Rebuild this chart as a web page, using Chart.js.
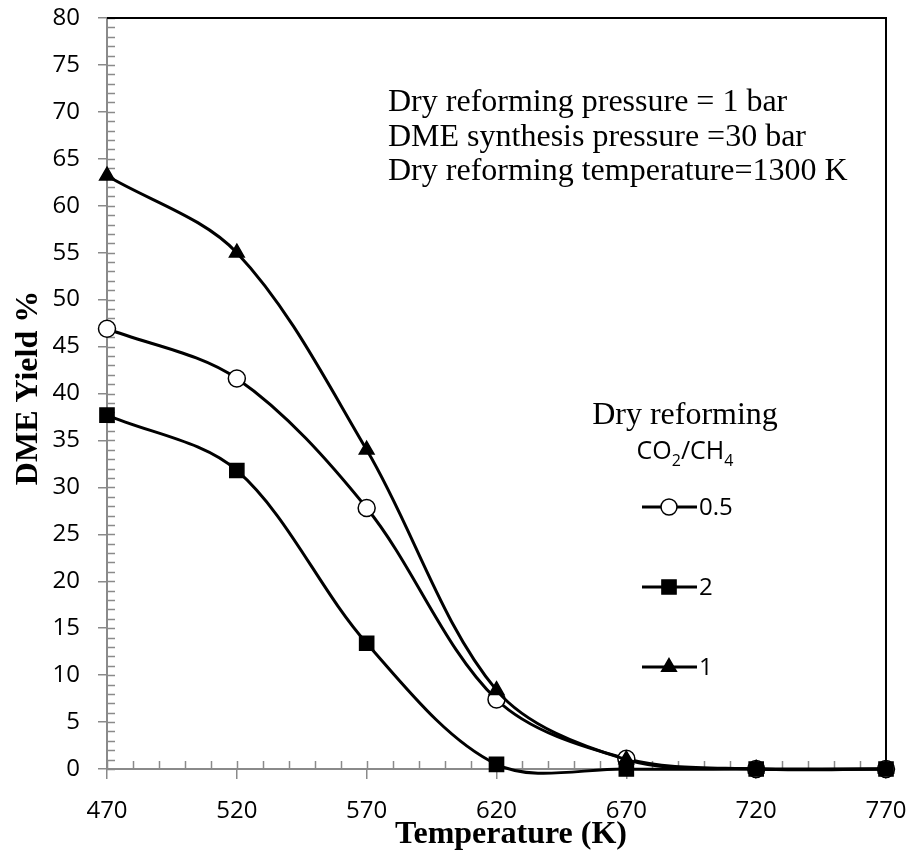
<!DOCTYPE html>
<html>
<head>
<meta charset="utf-8">
<script src="https://cdn.jsdelivr.net/npm/chart.js@4/dist/chart.umd.min.js"></script>
<style>
  html, body { margin: 0; padding: 0; background: #fff; }
  #wrap { width: 916px; height: 855px; }
</style>
</head>
<body>
<div id="wrap"><canvas id="c" width="916" height="855"></canvas></div>
<script>
// Reactor temperature (K) for DME synthesis
const temperatures = [470, 520, 570, 620, 670, 720, 770];

// DME yield (%) for each dry-reforming CO2/CH4 feed ratio
const yieldRatio05 = [46.9, 41.6, 27.8, 7.4, 1.1, 0, 0];
const yieldRatio2  = [37.7, 31.8, 13.4, 0.5, 0, 0, 0];
const yieldRatio1  = [63.2, 55.0, 34.0, 8.4, 1.0, 0, 0];

const seriesLabels = ['0.5', '2', '1'];
const xTickValues = [470, 520, 570, 620, 670, 720, 770];
const yTickValues = [0, 5, 10, 15, 20, 25, 30, 35, 40, 45, 50, 55, 60, 65, 70, 75, 80];

const xAxisTitle = 'Temperature (K)';
const yAxisTitle = 'DME Yield %';
const noteLines = [
  'Dry reforming pressure = 1 bar',
  'DME synthesis pressure =30 bar',
  'Dry reforming temperature=1300 K'
];
const legendTitle = 'Dry reforming';

const SANS = '"Open Sans", "Liberation Sans", sans-serif';
const SERIF = '"Liberation Serif", "Times New Roman", serif';
const AXIS_GREY = '#8a8a8a';

function toPoints(ys) {
  return temperatures.map((t, i) => ({ x: t, y: ys[i] }));
}

const baseSeries = {
  borderColor: '#000',
  borderWidth: 3,
  pointBorderColor: '#000',
  pointBorderWidth: 1.5,
  tension: 0.33,
  fill: false,
  clip: false
};

const datasets = [
  Object.assign({}, baseSeries, {
    label: seriesLabels[0], data: toPoints(yieldRatio05),
    pointStyle: 'circle', pointRadius: 8.5, pointBackgroundColor: '#fff', order: 3
  }),
  Object.assign({}, baseSeries, {
    label: seriesLabels[1], data: toPoints(yieldRatio2),
    pointStyle: 'rect', pointRadius: 10, pointBackgroundColor: '#000', order: 2
  }),
  Object.assign({}, baseSeries, {
    label: seriesLabels[2], data: toPoints(yieldRatio1),
    pointStyle: 'triangle', pointRadius: 8.5, pointBackgroundColor: '#000', order: 1
  })
];

function drawMarker(ctx, ds, x, y) {
  const r = ds.pointRadius;
  ctx.save();
  ctx.fillStyle = ds.pointBackgroundColor;
  ctx.strokeStyle = ds.pointBorderColor;
  ctx.lineWidth = ds.pointBorderWidth;
  ctx.beginPath();
  if (ds.pointStyle === 'circle') {
    ctx.arc(x, y, r - 0.5, 0, Math.PI * 2);
  } else if (ds.pointStyle === 'rect') {
    const s = Math.SQRT1_2 * r;
    ctx.rect(x - s, y - s, 2 * s, 2 * s);
  } else {
    for (let k = 0; k < 3; k++) {
      const a = k * 2 * Math.PI / 3;
      const px = x + Math.sin(a) * r, py = y - Math.cos(a) * r;
      if (k === 0) ctx.moveTo(px, py); else ctx.lineTo(px, py);
    }
    ctx.closePath();
  }
  ctx.fill();
  ctx.stroke();
  ctx.restore();
}

// Inner tick marks (major + minor), the black frame on top/right, titles and notes
const framePlugin = {
  id: 'frame',
  beforeDatasetsDraw(chart) {
    const { ctx, chartArea: a, scales } = chart;
    ctx.save();
    ctx.strokeStyle = AXIS_GREY;
    ctx.lineWidth = 1.5;
    ctx.beginPath();
    for (let v = 0; v <= 80; v += 1) {
      const y = Math.round(scales.y.getPixelForValue(v)) + 0.5;
      ctx.moveTo(a.left, y);
      ctx.lineTo(a.left + 8, y);
    }
    for (let t = 470; t <= 770; t += 10) {
      const x = Math.round(scales.x.getPixelForValue(t)) + 0.5;
      ctx.moveTo(x, a.bottom);
      ctx.lineTo(x, a.bottom - 8);
    }
    ctx.stroke();
    ctx.strokeStyle = '#000';
    ctx.lineWidth = 2;
    ctx.beginPath();
    ctx.moveTo(a.left, a.top);
    ctx.lineTo(a.right, a.top);
    ctx.lineTo(a.right, a.bottom);
    ctx.stroke();
    ctx.restore();
  },
  afterDraw(chart) {
    const { ctx } = chart;
    ctx.save();
    ctx.fillStyle = '#000';

    // Axis titles
    ctx.font = 'bold 32px ' + SERIF;
    ctx.textAlign = 'center';
    ctx.textBaseline = 'alphabetic';
    ctx.fillText(xAxisTitle, 511, 843);
    ctx.save();
    ctx.translate(37, 388);
    ctx.rotate(-Math.PI / 2);
    ctx.fillText(yAxisTitle, 0, 0);
    ctx.restore();

    // Operating conditions note
    ctx.font = '32px ' + SERIF;
    ctx.textAlign = 'left';
    noteLines.forEach((t, i) => ctx.fillText(t, 388, 111 + i * 34.5));

    // Legend title
    ctx.textAlign = 'center';
    ctx.fillText(legendTitle, 685, 424);

    // CO2/CH4 with subscripts
    const parts = [['CO', 0], ['2', 1], ['/CH', 0], ['4', 1]];
    const big = '25px ' + SANS, small = '16px ' + SANS;
    let w = 0;
    parts.forEach(([s, sub]) => { ctx.font = sub ? small : big; w += ctx.measureText(s).width; });
    let x = 685 - w / 2;
    ctx.textAlign = 'left';
    parts.forEach(([s, sub]) => {
      ctx.font = sub ? small : big;
      ctx.fillText(s, x, sub ? 466 : 459);
      x += ctx.measureText(s).width;
    });

    // Legend entries
    const rows = [507, 587, 667];
    chart.data.datasets.forEach((ds, i) => {
      const y = rows[i];
      ctx.strokeStyle = '#000';
      ctx.lineWidth = 3;
      ctx.beginPath();
      ctx.moveTo(642, y);
      ctx.lineTo(697, y);
      ctx.stroke();
      drawMarker(ctx, ds, 669, y);
      ctx.fillStyle = '#000';
      ctx.font = '24px ' + SANS;
      ctx.textAlign = 'left';
      ctx.textBaseline = 'middle';
      ctx.fillText(ds.label, 699, y + 1);
      ctx.textBaseline = 'alphabetic';
    });
    ctx.restore();
  }
};

new Chart(document.getElementById('c'), {
  type: 'line',
  data: { datasets },
  options: {
    responsive: false,
    animation: false,
    events: [],
    layout: { padding: { top: 18, right: 30, left: 0, bottom: 0 } },
    plugins: { legend: { display: false }, tooltip: { enabled: false } },
    elements: { line: { capBezierPoints: false } },
    scales: {
      x: {
        type: 'linear',
        min: 470, max: 770,
        afterBuildTicks: s => { s.ticks = xTickValues.map(v => ({ value: v })); },
        afterFit: s => { s.height = 86; s.paddingLeft = 0; s.paddingRight = 0; },
        ticks: { font: { family: SANS, size: 24 }, color: '#000', padding: 18, maxRotation: 0 },
        grid: { drawOnChartArea: false, drawTicks: true, tickLength: 10, color: AXIS_GREY, lineWidth: 1.5 },
        border: { color: AXIS_GREY, width: 2 }
      },
      y: {
        min: 0, max: 80,
        afterBuildTicks: s => { s.ticks = yTickValues.map(v => ({ value: v })); },
        afterFit: s => { s.width = 107; s.paddingTop = 0; s.paddingBottom = 0; },
        ticks: { font: { family: SANS, size: 24 }, color: '#000', padding: 18 },
        grid: { drawOnChartArea: false, drawTicks: true, tickLength: 9, color: AXIS_GREY, lineWidth: 1.5 },
        border: { color: AXIS_GREY, width: 2 }
      }
    }
  },
  plugins: [framePlugin]
});
</script>
</body>
</html>
